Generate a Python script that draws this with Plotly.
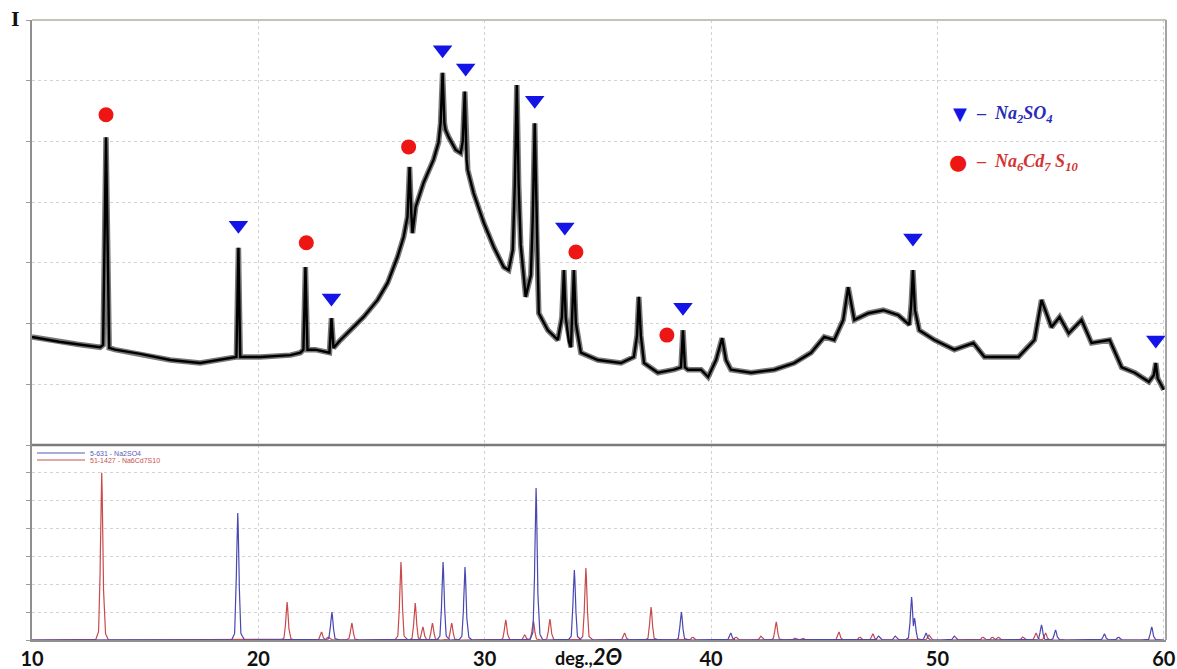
import numpy as np
import plotly.graph_objects as go

# ---------------- data ----------------
# measured diffractogram (top panel), 2theta in degrees, intensity in arbitrary units
TOP_X = [10.0, 11.2, 12.0, 13.01, 13.14, 13.27, 13.41, 13.67, 14.78, 16.11, 17.43, 18.76,
         19.03, 19.12, 19.20, 20.09, 21.42, 21.86, 21.99, 22.08, 22.17, 22.52, 23.14, 23.23,
         23.32, 23.63, 24.07, 24.65, 25.27, 25.71, 26.15, 26.42, 26.59, 26.68, 26.76, 26.81,
         26.95, 27.30, 27.74, 27.96, 28.05, 28.14, 28.22, 28.27, 28.41, 28.72, 28.94, 29.03,
         29.12, 29.20, 29.25, 29.51, 29.96, 30.40, 30.84, 31.06, 31.24, 31.33, 31.42, 31.50,
         31.59, 31.81, 32.04, 32.12, 32.21, 32.30, 32.39, 32.79, 33.23, 33.41, 33.50, 33.58,
         33.72, 33.81, 33.85, 33.94, 34.03, 34.25, 35.00, 36.02, 36.59, 36.73, 36.81, 36.90,
         37.04, 37.65, 38.36, 38.67, 38.76, 38.85, 38.98, 39.56, 39.87, 40.22, 40.49, 40.66,
         40.88, 41.77, 42.79, 43.67, 44.42, 45.00, 45.44, 45.84, 46.06, 46.33, 46.95, 47.61,
         48.27, 48.76, 48.84, 48.92, 49.01, 49.20, 49.87, 50.75, 51.59, 52.08, 52.83, 53.58,
         54.29, 54.60, 55.04, 55.40, 55.80, 56.37, 56.81, 57.61, 58.14, 58.72, 59.34, 59.56,
         59.65, 59.73, 60.0]
TOP_Y = [178, 170, 166, 161, 165, 507, 160, 157, 150, 140, 135, 143,
         145, 325, 145, 145, 148, 152, 157, 293, 157, 157, 152, 209,
         160, 173, 189, 211, 239, 267, 310, 343, 376, 458, 380, 349,
         392, 432, 470, 498, 530, 613, 530, 519, 507, 486, 481, 500,
         582, 470, 453, 415, 366, 326, 293, 288, 321, 430, 593, 430,
         330, 244, 280, 370, 530, 350, 217, 189, 173, 210, 288, 210,
         170, 161, 200, 288, 200, 152, 140, 135, 145, 180, 244, 180,
         135, 119, 124, 128, 189, 128, 124, 124, 112, 140, 176, 140,
         124, 119, 124, 135, 152, 178, 173, 206, 260, 206, 217, 222,
         214, 198, 230, 288, 222, 189, 173, 157, 168, 145, 145, 145,
         173, 239, 194, 211, 184, 206, 168, 173, 128, 119, 104, 115,
         135, 110, 91]

# phase markers placed over the peaks
NA2SO4_MARK_X = [19.12, 23.23, 28.14, 29.16, 32.21, 33.54, 38.76, 48.92, 59.65]
NA2SO4_MARK_Y = [362, 242, 651, 621, 568, 359, 227, 341, 173]
NACDS_MARK_X = [13.27, 22.12, 26.64, 34.03, 38.05]
NACDS_MARK_Y = [544, 333, 491, 318, 181]

# reference patterns (bottom panel): peak positions and heights
NA2SO4_POS = [19.09, 23.25, 28.16, 29.13, 32.27, 33.96, 38.69, 40.87, 47.40, 48.14,
              48.86, 48.99, 49.50, 50.75, 54.60, 55.22, 57.38, 58.00, 59.47]
NA2SO4_H = [456, 100, 280, 262, 546, 251, 100, 25, 14, 14,
            154, 79, 25, 14, 54, 36, 22, 11, 47]
NACDS_POS = [13.08, 21.27, 22.79, 23.08, 24.13, 26.30, 26.93, 27.27, 27.69, 28.54,
             30.93, 31.77, 32.15, 32.88, 34.47, 36.18, 37.35, 39.19, 41.10, 42.20,
             42.88, 43.70, 44.05, 45.65, 46.57, 47.15, 49.63, 52.01, 52.43, 52.69,
             53.77, 54.36, 54.78]
NACDS_H = [600, 136, 29, 11, 61, 280, 133, 47, 61, 61,
           72, 18, 68, 75, 258, 25, 118, 11, 11, 14,
           65, 7, 7, 29, 11, 22, 18, 11, 11, 11,
           11, 25, 25]

X_TICKS = [10, 20, 30, 40, 50, 60]

# ---------------- rendering of reference peaks (style: profile shape) ----------------
PROFILE_OFF = [-0.27, -0.14, -0.08, -0.035, 0.0, 0.035, 0.08, 0.14, 0.27]
PROFILE_FRAC = [0.0, 0.05, 0.3, 0.8, 1.0, 0.8, 0.3, 0.05, 0.0]
GRID = np.round(np.arange(10.0, 60.0001, 0.01), 3)


def pattern(pos, h):
    y = np.zeros_like(GRID)
    for p, hh in zip(pos, h):
        y = np.maximum(y, hh * np.interp(GRID - p, PROFILE_OFF, PROFILE_FRAC))
    return y


SPLIT = 195 / 620.0
fig = go.Figure()

fig.add_trace(go.Scatter(x=GRID, y=pattern(NACDS_POS, NACDS_H), mode="lines",
                         line=dict(color="#c84a4a", width=1.2), xaxis="x", yaxis="y",
                         hoverinfo="skip"))
fig.add_trace(go.Scatter(x=GRID, y=pattern(NA2SO4_POS, NA2SO4_H), mode="lines",
                         line=dict(color="#4848b0", width=1.2), xaxis="x", yaxis="y",
                         hoverinfo="skip"))

# measured trace: soft band + dark core to imitate the thick noisy line
fig.add_trace(go.Scatter(x=TOP_X, y=TOP_Y, mode="lines",
                         line=dict(color="rgba(10,10,10,0.55)", width=5.5), xaxis="x", yaxis="y2",
                         hoverinfo="skip"))
fig.add_trace(go.Scatter(x=TOP_X, y=TOP_Y, mode="lines",
                         line=dict(color="#000000", width=2.4), xaxis="x", yaxis="y2"))
fig.add_trace(go.Scatter(x=NA2SO4_MARK_X, y=NA2SO4_MARK_Y, mode="markers",
                         marker=dict(symbol="triangle-down", size=17, color="#1414e6",
                                     line=dict(width=0)), xaxis="x", yaxis="y2"))
fig.add_trace(go.Scatter(x=NACDS_MARK_X, y=NACDS_MARK_Y, mode="markers",
                         marker=dict(symbol="circle", size=15, color="#ee1515",
                                     line=dict(width=0)), xaxis="x", yaxis="y2"))

grid_style = dict(showgrid=True, gridcolor="#d2d2d2", griddash="dot", gridwidth=1,
                  zeroline=False, automargin=False)
yax = dict(range=[0, 700], dtick=100, showticklabels=False, ticks="outside", ticklen=4,
           tickcolor="#9a9a9a", showline=True, linecolor="#8f8f8f", linewidth=2,
           **grid_style)

fig.update_layout(
    width=1177, height=669,
    margin=dict(l=32, r=11, t=20, b=29, autoexpand=False),
    paper_bgcolor="white", plot_bgcolor="white",
    showlegend=False,
    xaxis=dict(domain=[0, 1], range=[10, 60.1], anchor="y", tickvals=X_TICKS,
               ticktext=[str(t) for t in X_TICKS], ticks="",
               tickfont=dict(family="Lato", size=20, color="#111111", weight="bold"),
               showline=True, linecolor="#8f8f8f", linewidth=2, **grid_style),
    yaxis=dict(domain=[0, SPLIT], anchor="x", **yax),
    yaxis2=dict(domain=[SPLIT, 1], anchor="x", **yax),
    shapes=[
        dict(type="line", xref="paper", yref="paper", x0=0, x1=1, y0=1, y1=1,
             line=dict(color="#c4c4b4", width=2)),
        dict(type="line", xref="paper", yref="paper", x0=1, x1=1, y0=0, y1=1,
             line=dict(color="#a4a4a4", width=2)),
        dict(type="line", xref="paper", yref="paper", x0=0, x1=1, y0=SPLIT, y1=SPLIT,
             line=dict(color="#7a7a7a", width=2.5)),
        dict(type="line", xref="paper", yref="paper", x0=5 / 1134, x1=53 / 1134,
             y0=(640 - 453) / 620, y1=(640 - 453) / 620, line=dict(color="#5a5ab8", width=1.2)),
        dict(type="line", xref="paper", yref="paper", x0=5 / 1134, x1=53 / 1134,
             y0=(640 - 460) / 620, y1=(640 - 460) / 620, line=dict(color="#c85050", width=1.2)),
    ],
    annotations=[
        dict(text="<b>I</b>", xref="paper", yref="paper", x=(15 - 32) / 1134,
             y=(640 - 19) / 620, xanchor="center", yanchor="middle", showarrow=False,
             font=dict(family="Liberation Serif", size=22, color="#111111")),
        dict(text="<b>deg.,</b><span style='font-size:22px'><b><i>2Θ</i></b></span>",
             xref="paper", yref="paper",
             x=(588 - 32) / 1134, y=(640 - 656) / 620, xanchor="center", yanchor="middle",
             showarrow=False, font=dict(family="Lato", size=18, color="#111111")),
        dict(text="▼", xref="paper", yref="paper", x=(960 - 32) / 1134, y=(640 - 113) / 620,
             xanchor="center", yanchor="middle", showarrow=False,
             font=dict(family="DejaVu Sans", size=18, color="#1414e6")),
        dict(text="●", xref="paper", yref="paper", x=(958 - 32) / 1134, y=(640 - 162) / 620,
             xanchor="center", yanchor="middle", showarrow=False,
             font=dict(family="DejaVu Sans", size=21, color="#ee1515")),
        dict(text="<b>–</b>  <b><i>Na<sub>2</sub>SO<sub>4</sub></i></b>", xref="paper", yref="paper",
             x=(974 - 32) / 1134, y=(640 - 114) / 620, xanchor="left", yanchor="middle",
             showarrow=False, font=dict(family="Liberation Serif", size=18, color="#2a2ab8")),
        dict(text="<b>–</b>  <b><i>Na<sub>6</sub>Cd<sub>7</sub> S<sub>10</sub></i></b>", xref="paper",
             yref="paper", x=(974 - 32) / 1134, y=(640 - 163) / 620, xanchor="left",
             yanchor="middle", showarrow=False,
             font=dict(family="Liberation Serif", size=18, color="#d23434")),
        dict(text="5-631 - Na2SO4", xref="paper", yref="paper", x=(88 - 32) / 1134,
             y=(640 - 453) / 620, xanchor="left", yanchor="middle", showarrow=False,
             font=dict(family="Liberation Sans", size=7, color="#5a5ab8")),
        dict(text="51-1427 - Na6Cd7S10", xref="paper", yref="paper", x=(88 - 32) / 1134,
             y=(640 - 460) / 620, xanchor="left", yanchor="middle", showarrow=False,
             font=dict(family="Liberation Sans", size=7, color="#c85050")),
    ],
)

fig.write_html("out.html", config={"displayModeBar": False},
               post_script="document.body.style.margin='0';document.body.style.overflow='hidden';")
